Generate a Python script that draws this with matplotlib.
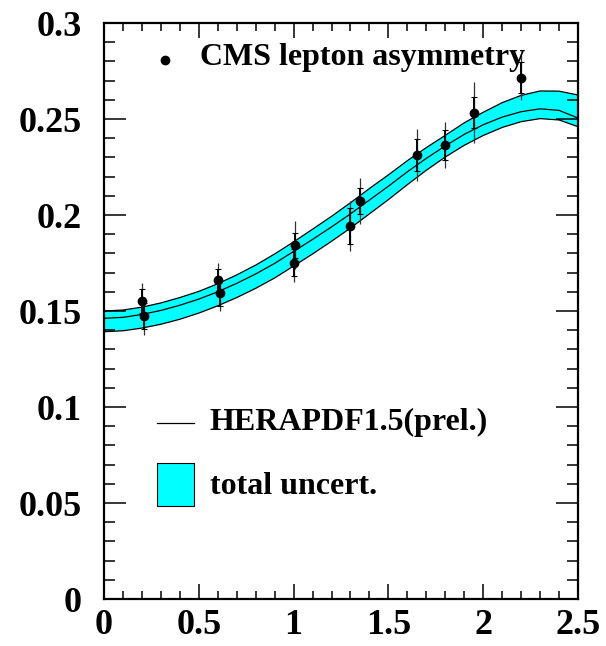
import matplotlib
matplotlib.use("Agg")
import matplotlib.pyplot as plt
from matplotlib.ticker import MultipleLocator, FuncFormatter
from matplotlib.patches import Rectangle
from matplotlib.lines import Line2D

# HERAPDF1.5 (prel.) prediction: central value and total uncertainty band vs lepton |eta|
eta_grid = [0.0, 0.1, 0.2, 0.3, 0.4, 0.5, 0.6, 0.7, 0.8, 0.9, 1.0, 1.1, 1.2,
            1.3, 1.4, 1.5, 1.6, 1.7, 1.8, 1.9, 2.0, 2.1, 2.2, 2.3, 2.4, 2.5]
pdf_central = [0.1462, 0.1467, 0.1482, 0.1503, 0.1530, 0.1562, 0.1600, 0.1644,
               0.1693, 0.1748, 0.1810, 0.1873, 0.1938, 0.2006, 0.2078, 0.2150,
               0.2225, 0.2295, 0.2360, 0.2420, 0.2470, 0.2510, 0.2538, 0.2553,
               0.2545, 0.2505]
pdf_upper = [0.1500, 0.1505, 0.1520, 0.1542, 0.1570, 0.1602, 0.1642, 0.1688,
             0.1739, 0.1797, 0.1860, 0.1926, 0.1993, 0.2064, 0.2138, 0.2209,
             0.2283, 0.2351, 0.2415, 0.2480, 0.2535, 0.2585, 0.2623, 0.2646,
             0.2645, 0.2625]
pdf_lower = [0.1392, 0.1397, 0.1411, 0.1431, 0.1457, 0.1489, 0.1527, 0.1570,
             0.1618, 0.1672, 0.1734, 0.1797, 0.1863, 0.1932, 0.2006, 0.2080,
             0.2158, 0.2233, 0.2302, 0.2363, 0.2414, 0.2456, 0.2486, 0.2502,
             0.2495, 0.2460]

# CMS lepton charge asymmetry measurements
cms_eta = [0.20, 0.21, 0.60, 0.61, 1.01, 1.00, 1.30, 1.35, 1.65, 1.80, 1.95, 2.20]
cms_asym = [0.1552, 0.1474, 0.1661, 0.1592, 0.1842, 0.1752, 0.1943, 0.2073,
            0.2314, 0.2365, 0.2533, 0.2716]
cms_stat = [0.0060, 0.0070, 0.0060, 0.0065, 0.0065, 0.0070, 0.0095, 0.0070,
            0.0083, 0.0080, 0.0080, 0.0080]
cms_total = [0.0095, 0.0100, 0.0090, 0.0092, 0.0125, 0.0102, 0.0130, 0.0120,
             0.0135, 0.0120, 0.0160, 0.0115]

x_ticks = [0, 0.5, 1, 1.5, 2, 2.5]
y_ticks = [0, 0.05, 0.1, 0.15, 0.2, 0.25, 0.3]

FONT = "Liberation Serif"
CYAN = "#00ffff"

fig = plt.figure(figsize=(6.06, 6.46), dpi=100)
ax = fig.add_axes([104 / 606, 47 / 646, 474 / 606, 576 / 646])

# uncertainty band and central curve
ax.fill_between(eta_grid, pdf_lower, pdf_upper, facecolor=CYAN, edgecolor="none", zorder=1)
ax.plot(eta_grid, pdf_upper, color="black", lw=0.9, zorder=2)
ax.plot(eta_grid, pdf_lower, color="black", lw=0.9, zorder=2)
ax.plot(eta_grid, pdf_central, color="black", lw=0.9, zorder=2)

# data: total error (thin), statistical error (thick, with small caps)
ax.errorbar(cms_eta, cms_asym, yerr=cms_total, fmt="none", ecolor="#333333",
            elinewidth=0.9, capsize=0, zorder=3)
ax.errorbar(cms_eta, cms_asym, yerr=cms_stat, fmt="none", ecolor="black",
            elinewidth=1.4, capsize=2.2, capthick=0.8, zorder=4)
ax.plot(cms_eta, cms_asym, "o", color="black", ms=6, zorder=5)

ax.set_xlim(0, 2.5)
ax.set_ylim(0, 0.3)

ax.xaxis.set_major_locator(MultipleLocator(0.5))
ax.xaxis.set_minor_locator(MultipleLocator(0.1))
ax.yaxis.set_major_locator(MultipleLocator(0.05))
ax.yaxis.set_minor_locator(MultipleLocator(0.01))
ax.set_xticks(x_ticks)
ax.set_yticks(y_ticks)
fmt = FuncFormatter(lambda v, p: ("%g" % round(v, 3)))
ax.xaxis.set_major_formatter(fmt)
ax.yaxis.set_major_formatter(fmt)

ax.tick_params(axis="both", which="both", direction="in", top=True, right=True,
               width=1.1, color="black")
ax.tick_params(axis="x", which="major", length=11, pad=7)
ax.tick_params(axis="x", which="minor", length=5.8)
ax.tick_params(axis="y", which="major", length=16, pad=16)
ax.tick_params(axis="y", which="minor", length=8)
for lab in ax.get_xticklabels() + ax.get_yticklabels():
    lab.set_fontfamily(FONT)
    lab.set_fontweight("bold")
    lab.set_fontsize(26)
for sp in ax.spines.values():
    sp.set_linewidth(1.6)

# legend entries drawn in axes pixel space
def px(xp, yp):
    return ((xp - 104) / 474, (599 - yp) / 576)

tr = ax.transAxes
ax.add_line(Line2D([px(165, 60)[0]], [px(165, 60)[1]], marker="o", ms=6,
                   color="black", transform=tr, clip_on=False))
ax.text(*px(200, 58), "CMS lepton asymmetry", transform=tr, family=FONT,
        weight="bold", fontsize=23, va="center", ha="left")
ax.add_line(Line2D([px(157, 423)[0], px(194, 423)[0]], [px(157, 423)[1]] * 2,
                   color="black", lw=0.9, transform=tr))
ax.text(*px(210, 422), "HERAPDF1.5(prel.)", transform=tr, family=FONT,
        weight="bold", fontsize=23, va="center", ha="left")
x0, y0 = px(157, 506)
x1, y1 = px(194, 463)
ax.add_patch(Rectangle((x0, y0), x1 - x0, y1 - y0, transform=tr,
                       facecolor=CYAN, edgecolor="black", lw=0.8))
ax.text(*px(210, 487), "total uncert.", transform=tr, family=FONT,
        weight="bold", fontsize=23, va="center", ha="left")

fig.savefig("out.png", dpi=100)
